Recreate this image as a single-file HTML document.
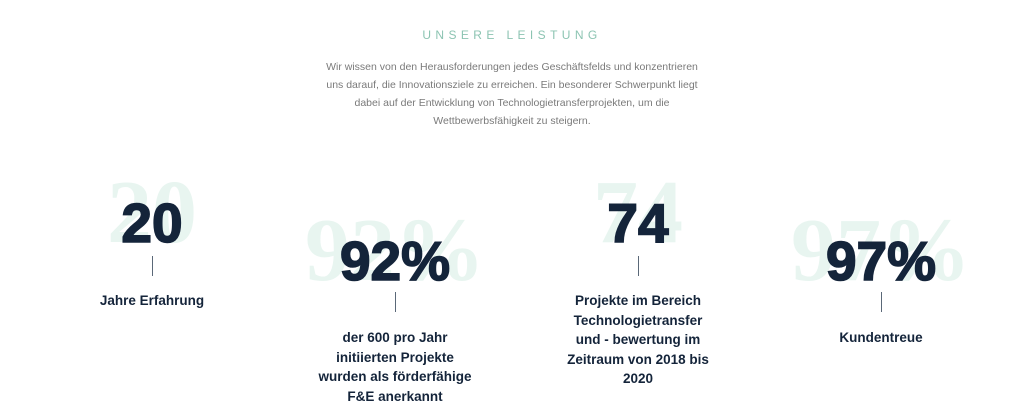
<!DOCTYPE html>
<html><head><meta charset="utf-8"><style>
body{margin:0;width:1024px;height:415px;background:#fff;position:relative;overflow:hidden;font-family:"Liberation Sans",sans-serif}
.h{position:absolute;top:28px;left:0;width:1024px;text-align:center;font-size:12px;letter-spacing:4.4px;color:#8cc4b2}
.p{position:absolute;top:58px;left:262px;width:500px;text-align:center;font-size:10.5px;line-height:18px;color:#7a7a7a;white-space:nowrap}
.bg{position:absolute;width:300px;text-align:center;font-family:"Liberation Serif",serif;font-weight:bold;font-size:90px;line-height:1;color:#e8f5f0}
.fg{position:absolute;width:300px;text-align:center;font-weight:bold;font-size:55px;line-height:1;color:#14243a;-webkit-text-stroke:1.6px #14243a}
.ln{position:absolute;width:1px;height:20px;background:#5a6878}
.lb{position:absolute;width:200px;text-align:center;font-weight:bold;font-size:13.5px;line-height:19.5px;color:#14243a;white-space:nowrap}
</style></head><body>
<div class="h">UNSERE LEISTUNG</div>
<div class="p">Wir wissen von den Herausforderungen jedes Geschäftsfelds und konzentrieren<br>uns darauf, die Innovationsziele zu erreichen. Ein besonderer Schwerpunkt liegt<br>dabei auf der Entwicklung von Technologietransferprojekten, um die<br>Wettbewerbsfähigkeit zu steigern.</div>

<div class="bg" style="left:2px;top:168px">20</div>
<div class="fg" style="left:2px;top:196px">20</div>
<div class="ln" style="left:152px;top:256px"></div>
<div class="lb" style="left:52px;top:291px">Jahre Erfahrung</div>

<div class="bg" style="left:245px;top:206px">92%</div>
<div class="fg" style="left:245px;top:234px">92%</div>
<div class="ln" style="left:395px;top:292px"></div>
<div class="lb" style="left:295px;top:328px">der 600 pro Jahr<br>initiierten Projekte<br>wurden als förderfähige<br>F&amp;E anerkannt</div>

<div class="bg" style="left:488px;top:168px">74</div>
<div class="fg" style="left:488px;top:196px">74</div>
<div class="ln" style="left:638px;top:256px"></div>
<div class="lb" style="left:538px;top:291px">Projekte im Bereich<br>Technologietransfer<br>und - bewertung im<br>Zeitraum von 2018 bis<br>2020</div>

<div class="bg" style="left:731px;top:206px">97%</div>
<div class="fg" style="left:731px;top:234px">97%</div>
<div class="ln" style="left:881px;top:292px"></div>
<div class="lb" style="left:781px;top:328px">Kundentreue</div>
</body></html>
